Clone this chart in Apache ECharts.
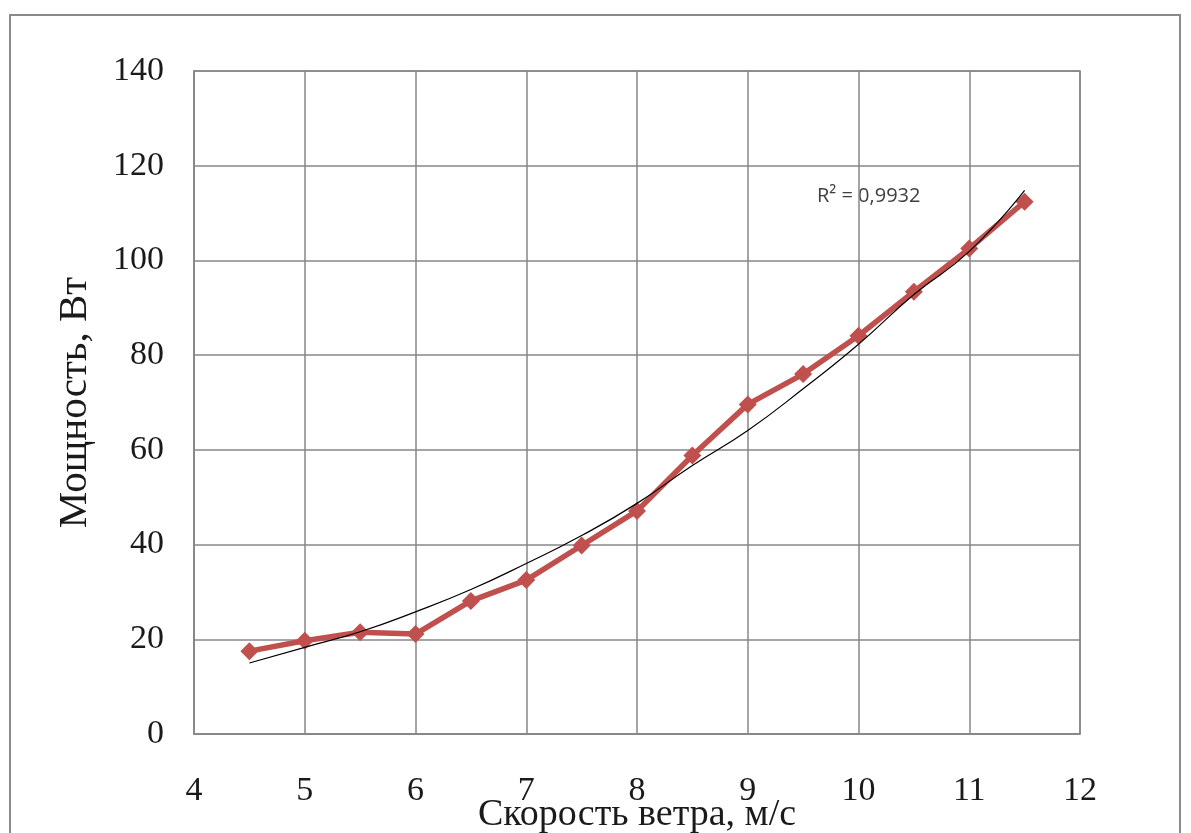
<!DOCTYPE html>
<html>
<head>
<meta charset="utf-8">
<script src="https://cdn.jsdelivr.net/npm/echarts@6/dist/echarts.min.js"></script>
<style>
  html, body { margin: 0; padding: 0; background: #fff; }
  #chart { width: 1191px; height: 833px; }
</style>
</head>
<body>
<div id="chart"></div>
<script>
// скорость ветра, м/с
var speed = [4.5, 5, 5.5, 6, 6.5, 7, 7.5, 8, 8.5, 9, 9.5, 10, 10.5, 11, 11.5];
// измеренная мощность, Вт
var power = [17.5, 19.7, 21.5, 21.1, 28.1, 32.5, 39.8, 47.1, 58.8, 69.6, 76, 84.1, 93.4, 102.5, 112.4];
// линия тренда (полином)
var trend = [15.0, 18.3, 21.6, 25.8, 30.5, 36.0, 41.9, 48.7, 56.7, 64.1, 72.9, 82.3, 92.8, 101.9, 114.8];
var xTicks = [4, 5, 6, 7, 8, 9, 10, 11, 12];
var yTicks = [0, 20, 40, 60, 80, 100, 120, 140];
var r2Text = 'R² = 0,9932';

var serif = '"Liberation Serif", "DejaVu Serif", serif';

function pairs(xs, ys) {
    return xs.map(function (x, i) { return [x, ys[i]]; });
}

var option = {
    backgroundColor: '#fff',
    animation: false,
    grid: {
        left: 194,
        right: 111,
        top: 71,
        bottom: 99,
        outerBoundsMode: 'none',
        containLabel: false,
        show: true,
        borderColor: '#878787',
        borderWidth: 1.5
    },
    xAxis: {
        type: 'value',
        min: xTicks[0],
        max: xTicks[xTicks.length - 1],
        interval: 1,
        name: 'Скорость ветра, м/с',
        nameLocation: 'middle',
        nameGap: 62,
        nameMoveOverlap: false,
        nameTextStyle: { fontFamily: serif, fontSize: 38, color: '#1a1a1a' },
        axisLine: { show: true, lineStyle: { color: '#878787', width: 1.5 } },
        axisTick: { show: false },
        axisLabel: { margin: 40, fontFamily: serif, fontSize: 34, color: '#1a1a1a' },
        splitLine: { show: true, lineStyle: { color: '#878787', width: 1.5 } }
    },
    yAxis: {
        type: 'value',
        min: yTicks[0],
        max: yTicks[yTicks.length - 1],
        interval: 20,
        name: 'Мощность, Вт',
        nameLocation: 'middle',
        nameGap: 98,
        nameMoveOverlap: false,
        nameTextStyle: { fontFamily: serif, fontSize: 41, color: '#1a1a1a' },
        axisLine: { show: true, lineStyle: { color: '#878787', width: 1.5 } },
        axisTick: { show: false },
        axisLabel: { margin: 30, fontFamily: serif, fontSize: 34, color: '#1a1a1a' },
        splitLine: { show: true, lineStyle: { color: '#878787', width: 1.5 } }
    },
    series: [
        {
            name: 'Мощность',
            type: 'line',
            data: pairs(speed, power),
            symbol: 'diamond',
            symbolSize: 18,
            itemStyle: { color: '#c0504d' },
            lineStyle: { color: '#c0504d', width: 5.5 },
            z: 3
        },
        {
            name: 'Тренд',
            type: 'line',
            data: pairs(speed, trend),
            smooth: true,
            symbol: 'none',
            lineStyle: { color: '#000', width: 1.2 },
            z: 4
        }
    ],
    graphic: [
        {
            type: 'rect',
            shape: { x: 10, y: 15, width: 1170, height: 840 },
            style: { fill: 'none', stroke: '#8a8a8a', lineWidth: 2 },
            silent: true
        },
        {
            type: 'text',
            left: 817,
            top: 186,
            style: {
                text: r2Text,
                font: '20px "Open Sans", "Liberation Sans", sans-serif',
                fill: '#404040'
            }
        }
    ]
};

echarts.init(document.getElementById('chart')).setOption(option);
</script>
</body>
</html>
